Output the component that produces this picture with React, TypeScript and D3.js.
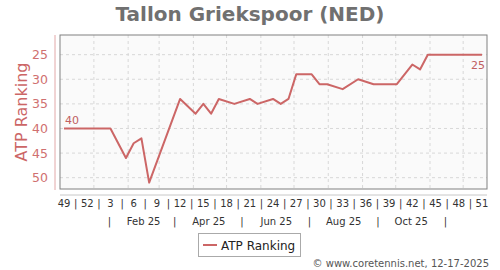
import React from "react";
import * as d3 from "d3";

// ---- Data ----
// weeks since ISO week 49 of 2024 (week of 2024-12-02)
const weekOffsets = [0, 1, 2, 3, 4, 5, 6, 8, 9, 10, 11, 15, 17, 18, 19, 20, 22, 24, 25, 27, 28, 29, 30, 31, 32, 33, 34, 36, 38, 40, 41, 42, 43, 45, 46, 47, 48, 49, 50, 51, 52, 53, 54];
const ranks = [40, 40, 40, 40, 40, 40, 40, 46, 43, 42, 51, 34, 37, 35, 37, 34, 35, 34, 35, 34, 35, 34, 29, 29, 29, 31, 31, 32, 30, 31, 31, 31, 31, 27, 28, 25, 25, 25, 25, 25, 25, 25, 25];
const weekTickLabels = ["49", "52", "3", "6", "9", "12", "15", "18", "21", "24", "27", "30", "33", "36", "39", "42", "45", "48", "51"];
const monthLabels = ["Feb 25", "Apr 25", "Jun 25", "Aug 25", "Oct 25"];
const monthLabelMonths = [1, 3, 5, 7, 9]; // 2025, 0-based
const monthSepMonths = [0, 2, 4, 6, 8, 10];
const gridMonths = [0, 1, 2, 3, 4, 5, 6, 7, 8, 9, 10, 11];
const yTicks = [25, 30, 35, 40, 45, 50];
const title = "Tallon Griekspoor (NED)";
const seriesName = "ATP Ranking";
const credit = "\u00a9 www.coretennis.net, 12-17-2025";

const W = 500, H = 270;
const plot = { l: 60, r: 487, t: 35, b: 189 };
const lineColor = "#cc6666";
const font = "DejaVu Sans, sans-serif";

const origin = Date.UTC(2024, 11, 5);
const weekOf = (y: number, m: number, d: number) => (Date.UTC(y, m, d) - origin) / (7 * 864e5);

export default function App() {
  const x = d3.scaleLinear().domain([-0.52, 54.65]).range([plot.l, plot.r]);
  const y = d3.scaleLinear().domain([21, 52.3]).range([plot.t, plot.b]);
  const pts = weekOffsets.map((k, i) => [k, ranks[i]] as [number, number]);
  const line = d3.line<[number, number]>().x((d) => x(d[0])).y((d) => y(d[1]));
  const first = pts[0], last = pts[pts.length - 1];

  return (
    <svg width={W} height={H} style={{ position: "absolute", left: 0, top: 0, fontFamily: font }}>
      <rect x={0} y={0} width={W} height={H} fill="#fff" />
      <text x={250} y={21} textAnchor="middle" fontSize={20} fontWeight="bold" fill="#707070">{title}</text>

      <rect x={plot.l} y={plot.t} width={plot.r - plot.l} height={plot.b - plot.t} fill="#fafafa" />
      {yTicks.map((t) => (
        <line key={"gy" + t} x1={plot.l} x2={plot.r} y1={y(t)} y2={y(t)} stroke="#d8d8d8" strokeDasharray="3,3" />
      ))}
      {gridMonths.map((m) => {
        const gx = x(weekOf(2025, m, 1));
        return <line key={"gx" + m} x1={gx} x2={gx} y1={plot.t} y2={plot.b} stroke="#d8d8d8" strokeDasharray="3,3" />;
      })}
      <rect x={plot.l} y={plot.t} width={plot.r - plot.l} height={plot.b - plot.t} fill="none" stroke="#808080" strokeWidth={1} />

      {/* y axis */}
      <line x1={55} x2={55} y1={plot.t} y2={plot.b + 1} stroke="#e2a8a8" strokeWidth={1} />
      {yTicks.map((t) => (
        <text key={"ty" + t} x={48} y={y(t) + 4.5} textAnchor="end" fontSize={12.5} fill="#d07070">{t}</text>
      ))}
      <text transform={`translate(27,112) rotate(-90)`} textAnchor="middle" fontSize={16} fill="#cc6666">{seriesName}</text>

      {/* x axis */}
      <line x1={plot.l} x2={plot.r} y1={195} y2={195} stroke="#c8c8c8" />
      {weekTickLabels.map((lab, i) => (
        <text key={"wx" + i} x={x(i * 3)} y={207} textAnchor="middle" fontSize={10} fill="#333">{lab}</text>
      ))}
      {weekTickLabels.slice(1).map((_, i) => (
        <text key={"ws" + i} x={x(i * 3 + 1.5)} y={207} textAnchor="middle" fontSize={10} fill="#333">|</text>
      ))}
      {monthLabels.map((lab, i) => (
        <text key={"mx" + i} x={x(weekOf(2025, monthLabelMonths[i], 15))} y={225} textAnchor="middle" fontSize={10} fill="#333">{lab}</text>
      ))}
      {monthSepMonths.map((m) => (
        <text key={"ms" + m} x={x(weekOf(2025, m, 15))} y={225} textAnchor="middle" fontSize={10} fill="#333">|</text>
      ))}

      {/* series */}
      <path d={line(pts) || ""} fill="none" stroke={lineColor} strokeWidth={2} strokeLinejoin="round" />
      <text x={x(first[0]) + 1} y={y(first[1]) - 4} fontSize={11} fill="#c06060">{first[1]}</text>
      <text x={x(last[0]) - 4} y={y(last[1]) + 14} textAnchor="middle" fontSize={11} fill="#c06060">{last[1]}</text>

      {/* legend */}
      <rect x={198.5} y={233.5} width={102} height={23} fill="#fff" stroke="#aaa" />
      <line x1={203} x2={217} y1={245} y2={245} stroke={lineColor} strokeWidth={2} />
      <text x={221} y={249.5} fontSize={12} fill="#222">{seriesName}</text>

      <text x={489} y={267} textAnchor="end" fontSize={10} fill="#555">{credit}</text>
    </svg>
  );
}
